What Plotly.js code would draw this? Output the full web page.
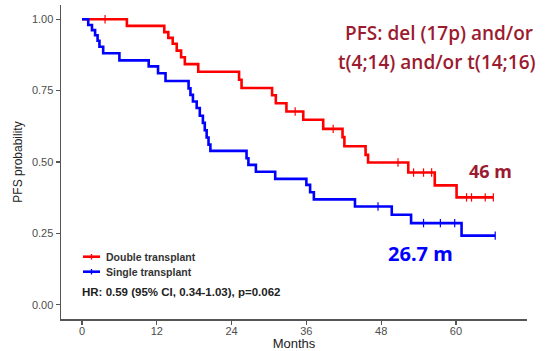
<!DOCTYPE html>
<html>
<head>
<meta charset="utf-8">
<script src="https://cdn.plot.ly/plotly-3.0.1.min.js"></script>
<style>html,body{margin:0;padding:0;background:#fff;}#chart{width:554px;height:351px;}</style>
</head>
<body>
<div id="chart"></div>
<script>
// Double transplant (red) Kaplan-Meier step data
var doubleTimes = [0, 7.2, 13.2, 13.85, 14.55, 15.2, 15.9, 16.5, 18.65, 25.2, 25.6, 30.5, 31.1, 32.8, 35.5, 38.7, 41.8, 42.1, 45.5, 45.9, 52.35, 56.6, 60.1];
var doubleSurv  = [1, 0.977, 0.955, 0.935, 0.914, 0.890, 0.867, 0.843, 0.816, 0.788, 0.759, 0.734, 0.706, 0.677, 0.648, 0.616, 0.587, 0.555, 0.525, 0.498, 0.463, 0.418, 0.376];
var doubleEnd = 66.0;
var doubleCensor = [3.7, 34.2, 40.3, 50.7, 53.2, 54.8, 56.1, 61.7, 62.5, 64.7, 66.0];

// Single transplant (blue)
var singleTimes = [0, 1.0, 1.6, 2.1, 2.5, 2.8, 3.4, 6.0, 10.7, 12.2, 13.4, 17.1, 17.4, 17.8, 18.4, 18.9, 19.4, 19.7, 20.0, 20.3, 20.6, 26.4, 26.7, 27.9, 31.0, 36.0, 36.6, 37.2, 43.8, 49.7, 52.8, 60.9];
var singleSurv  = [1, 0.98, 0.962, 0.944, 0.925, 0.904, 0.881, 0.856, 0.835, 0.811, 0.784, 0.758, 0.735, 0.712, 0.689, 0.662, 0.637, 0.611, 0.586, 0.561, 0.539, 0.513, 0.49, 0.466, 0.441, 0.42, 0.394, 0.369, 0.344, 0.315, 0.286, 0.242];
var singleEnd = 66.3;
var singleCensor = [47.5, 54.8, 57.5, 59.8, 66.3];

var xTicks = [0, 12, 24, 36, 48, 60];
var yTicks = [0, 0.25, 0.5, 0.75, 1.0];
var yTickLabels = ["0.00", "0.25", "0.50", "0.75", "1.00"];

var RED = "#FF0000", BLUE = "#0000FF", DARKRED = "#9B1B30";

function survAt(times, surv, t) {
  var s = surv[0];
  for (var i = 0; i < times.length; i++) { if (times[i] <= t) s = surv[i]; }
  return s;
}
function stepTrace(times, surv, end, color) {
  return {x: times.concat([end]), y: surv.concat([surv[surv.length - 1]]), mode: "lines",
    line: {shape: "hv", color: color, width: 2.6}, hoverinfo: "skip", showlegend: false};
}
function censorTrace(times, surv, cens, color) {
  return {x: cens, y: cens.map(function (t) { return survAt(times, surv, t); }), mode: "markers",
    marker: {symbol: "line-ns-open", size: 6, color: color, line: {color: color, width: 1.2}}, hoverinfo: "skip", showlegend: false};
}

var data = [
  stepTrace(doubleTimes, doubleSurv, doubleEnd, RED),
  stepTrace(singleTimes, singleSurv, singleEnd, BLUE),
  censorTrace(doubleTimes, doubleSurv, doubleCensor, RED),
  censorTrace(singleTimes, singleSurv, singleCensor, BLUE)
];

function px(x) { return (x - 61) / 466; }
function py(y) { return (319 - y) / 314; }

var axisFont = {family: "Liberation Sans, Arial, sans-serif", size: 11, color: "#4D4D4D"};
var titleFont = {family: "Open Sans, Noto Sans, sans-serif", size: 19, weight: 600, color: DARKRED};
var layout = {
  width: 554, height: 351,
  margin: {l: 61, r: 27, t: 5, b: 32},
  paper_bgcolor: "#fff", plot_bgcolor: "#fff",
  xaxis: {range: [-3.37, 71.4], tickvals: xTicks, ticktext: xTicks.map(String), showgrid: false, zeroline: false,
    showline: true, linecolor: "#555", linewidth: 1.5, ticks: "outside", ticklen: 4, tickcolor: "#555", tickwidth: 1.2,
    ticklabelstandoff: -3,
    tickfont: axisFont, title: {text: "Months", font: {family: "Liberation Sans, Arial, sans-serif", size: 13, color: "#222"}, standoff: 0}},
  yaxis: {range: [-0.05, 1.05], tickvals: yTicks, ticktext: yTickLabels, showgrid: false, zeroline: false,
    showline: true, linecolor: "#555", linewidth: 1.5, ticks: "outside", ticklen: 4, tickcolor: "#555", tickwidth: 1.2,
    tickfont: axisFont, title: {text: "PFS probability", font: {family: "Liberation Sans, Arial, sans-serif", size: 12, color: "#222"}, standoff: 6}},
  shapes: [
    {type: "line", xref: "paper", yref: "paper", x0: px(83), x1: px(100), y0: py(256.7), y1: py(256.7), line: {color: RED, width: 2.6}},
    {type: "line", xref: "paper", yref: "paper", x0: px(91.5), x1: px(91.5), y0: py(259.5), y1: py(254), line: {color: RED, width: 1.3}},
    {type: "line", xref: "paper", yref: "paper", x0: px(83), x1: px(100), y0: py(271.7), y1: py(271.7), line: {color: BLUE, width: 2.6}},
    {type: "line", xref: "paper", yref: "paper", x0: px(91.5), x1: px(91.5), y0: py(274.5), y1: py(269), line: {color: BLUE, width: 1.3}}
  ],
  annotations: [
    {xref: "paper", yref: "paper", x: px(439), y: py(33), text: "PFS: del (17p) and/or", showarrow: false,
      xanchor: "center", yanchor: "middle", font: titleFont},
    {xref: "paper", yref: "paper", x: px(436.5), y: py(62), text: "t(4;14) and/or t(14;16)", showarrow: false,
      xanchor: "center", yanchor: "middle", font: titleFont},
    {xref: "paper", yref: "paper", x: px(490), y: py(171), text: "<b>46 m</b>", showarrow: false,
      xanchor: "center", yanchor: "middle", font: {family: "Noto Sans, sans-serif", size: 18, color: DARKRED}},
    {xref: "paper", yref: "paper", x: px(420.5), y: py(253), text: "<b>26.7 m</b>", showarrow: false,
      xanchor: "center", yanchor: "middle", font: {family: "Noto Sans, sans-serif", size: 20, color: BLUE}},
    {xref: "paper", yref: "paper", x: px(104), y: py(256.7), text: "<b>Double transplant</b>", showarrow: false,
      xanchor: "left", yanchor: "middle", font: {family: "Liberation Sans, Arial, sans-serif", size: 10.5, color: "#333"}},
    {xref: "paper", yref: "paper", x: px(104), y: py(271.7), text: "<b>Single transplant</b>", showarrow: false,
      xanchor: "left", yanchor: "middle", font: {family: "Liberation Sans, Arial, sans-serif", size: 10.5, color: "#333"}},
    {xref: "paper", yref: "paper", x: px(79.5), y: py(291.7), text: "<b>HR: 0.59 (95% CI, 0.34-1.03), p=0.062</b>", showarrow: false,
      xanchor: "left", yanchor: "middle", font: {family: "Liberation Sans, Arial, sans-serif", size: 11.5, color: "#222"}}
  ]
};

Plotly.newPlot("chart", data, layout, {staticPlot: true, displayModeBar: false});
</script>
</body>
</html>
